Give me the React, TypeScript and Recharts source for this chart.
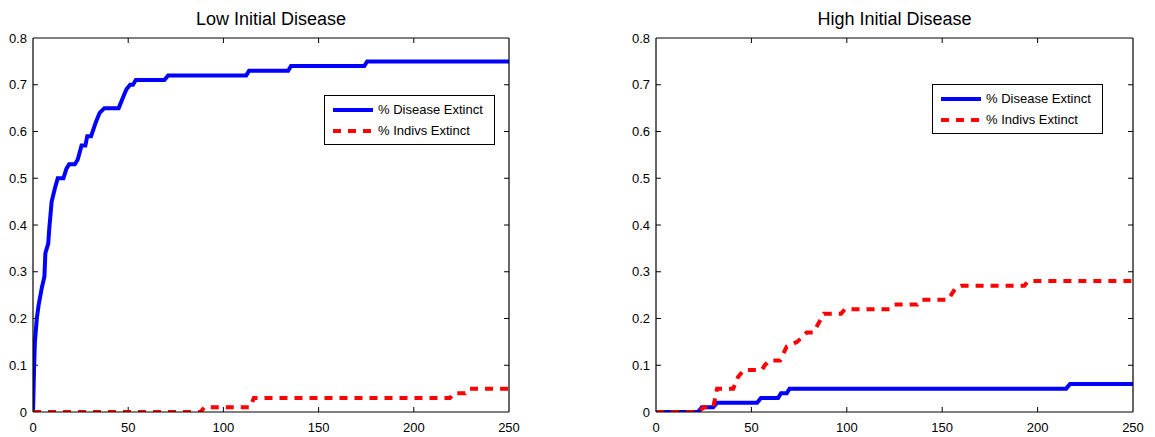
import { LineChart, Line, XAxis, YAxis, Legend, ReferenceLine } from 'recharts'

// time (x) and fraction (y) for each curve
const lowDiseaseT = [0, 0.6, 1, 2, 3, 4.6, 6, 6.5, 8, 8.5, 9.8, 11.6, 13, 16, 17.5, 19, 22, 23.5, 25.5, 27.5, 28.5, 30.5, 33, 35, 37.5, 45, 47, 49, 51, 52.5, 54, 69, 71, 112, 113.5, 134, 135.5, 174, 175.5, 250]
const lowDiseaseV = [0, 0.1, 0.15, 0.2, 0.23, 0.265, 0.29, 0.34, 0.36, 0.39, 0.45, 0.48, 0.5, 0.5, 0.52, 0.53, 0.53, 0.54, 0.57, 0.57, 0.59, 0.59, 0.62, 0.64, 0.65, 0.65, 0.67, 0.69, 0.7, 0.7, 0.71, 0.71, 0.72, 0.72, 0.73, 0.73, 0.74, 0.74, 0.75, 0.75]
const lowIndivsT = [0, 88, 90, 114, 116, 219, 221, 227, 229, 250]
const lowIndivsV = [0, 0, 0.01, 0.01, 0.03, 0.03, 0.04, 0.04, 0.05, 0.05]

const highDiseaseT = [0, 22, 24, 30, 32, 53, 55, 64, 65.5, 68.5, 70, 215, 217, 250]
const highDiseaseV = [0, 0, 0.01, 0.01, 0.02, 0.02, 0.03, 0.03, 0.04, 0.04, 0.05, 0.05, 0.06, 0.06]
const highIndivsT = [0, 22, 25, 30, 32, 40.5, 43, 46, 55.5, 57, 59.5, 65, 68.5, 74, 79, 82.5, 88, 97, 99, 122.5, 125, 137, 139, 153, 157, 160, 193, 195, 250]
const highIndivsV = [0, 0, 0.01, 0.01, 0.05, 0.05, 0.075, 0.09, 0.09, 0.1, 0.11, 0.11, 0.14, 0.15, 0.17, 0.17, 0.21, 0.21, 0.22, 0.22, 0.23, 0.23, 0.24, 0.24, 0.265, 0.27, 0.27, 0.28, 0.28]

const xTicks = [0, 50, 100, 150, 200, 250]
const yTicks = [0, 0.1, 0.2, 0.3, 0.4, 0.5, 0.6, 0.7, 0.8]
const seriesNames = ['% Disease Extinct', '% Indivs Extinct']

const zip = (t: number[], v: number[]) => t.map((x, i) => ({ t: x, v: v[i] }))

const FONT = '"Liberation Sans", Arial, sans-serif'
const tickStyle = { fontSize: 13, fill: '#000', fontFamily: FONT }
// inward tick length (~5px) in data units
const TX = 2.6
const TY = 0.0107

function LegendBox() {
  const row = (name: string, color: string, dashed: boolean) => (
    <div style={{ display: 'flex', alignItems: 'center', height: 21 }}>
      <svg width={44} height={8} style={{ marginRight: 3 }}>
        <line x1={2} y1={4} x2={42} y2={4} stroke={color} strokeWidth={4} strokeDasharray={dashed ? '8 7' : undefined} />
      </svg>
      <span>{name}</span>
    </div>
  )
  return (
    <div style={{ border: '1px solid #000', background: '#fff', padding: '3px 6px', fontFamily: FONT, fontSize: 13, color: '#000', boxSizing: 'border-box', width: 171, height: 50, textAlign: 'left' }}>
      {row(seriesNames[0], '#0000ff', false)}
      {row(seriesNames[1], '#ff0000', true)}
    </div>
  )
}

function tickMarks() {
  const out: any[] = []
  xTicks.slice(1, -1).forEach(t => {
    out.push(<ReferenceLine key={'xb' + t} xAxisId="b" yAxisId="l" segment={[{ x: t, y: 0 }, { x: t, y: TY }]} stroke="#000" />)
    out.push(<ReferenceLine key={'xt' + t} xAxisId="b" yAxisId="l" segment={[{ x: t, y: 0.8 }, { x: t, y: 0.8 - TY }]} stroke="#000" />)
  })
  yTicks.slice(1, -1).forEach(v => {
    out.push(<ReferenceLine key={'yl' + v} xAxisId="b" yAxisId="l" segment={[{ x: 0, y: v }, { x: TX, y: v }]} stroke="#000" />)
    out.push(<ReferenceLine key={'yr' + v} xAxisId="b" yAxisId="l" segment={[{ x: 250, y: v }, { x: 250 - TX, y: v }]} stroke="#000" />)
  })
  return out
}

function Panel({ title, disease, indivs, width, yWidth, right, legendLeft, legendTop }: any) {
  return (
    <div style={{ position: 'relative', width, height: 437 }}>
      <LineChart width={width} height={437} margin={{ top: 37, right, bottom: 0, left: 0 }}>
        <XAxis xAxisId="b" dataKey="t" type="number" domain={[0, 250]} ticks={xTicks} allowDataOverflow
          height={25} tickSize={-5} tickMargin={16} tick={tickStyle} fontSize={13}
          axisLine={{ stroke: '#000', strokeWidth: 1.2 }} tickLine={false} />
        <XAxis xAxisId="t" orientation="top" dataKey="t" type="number" domain={[0, 250]} ticks={xTicks}
          height={1} tick={false} axisLine={{ stroke: '#000', strokeWidth: 1.2 }} tickLine={false} />
        <YAxis yAxisId="l" type="number" domain={[0, 0.8]} ticks={yTicks} allowDataOverflow
          width={yWidth} tickSize={-5} tickMargin={11} tick={tickStyle} fontSize={13}
          axisLine={{ stroke: '#000', strokeWidth: 1.2 }} tickLine={false} />
        <YAxis yAxisId="r" orientation="right" type="number" domain={[0, 0.8]} ticks={yTicks}
          width={1} tick={false} axisLine={{ stroke: '#000', strokeWidth: 1.2 }} tickLine={false} />
        {tickMarks()}
        <Line xAxisId="b" yAxisId="l" data={disease} dataKey="v" name={seriesNames[0]} type="linear"
          stroke="#0000ff" strokeWidth={4} dot={false} isAnimationActive={false} />
        <Line xAxisId="b" yAxisId="l" data={indivs} dataKey="v" name={seriesNames[1]} type="linear"
          stroke="#ff0000" strokeWidth={4} strokeDasharray="8 7" dot={false} isAnimationActive={false} />
        <Legend content={<LegendBox />} layout="vertical" align="center" verticalAlign="middle"
          wrapperStyle={{ left: legendLeft, top: legendTop, width: 171, height: 50 }} />
      </LineChart>
      <div style={{ position: 'absolute', left: yWidth, width: width - yWidth - right - 1, top: 8, textAlign: 'center', fontFamily: FONT, fontSize: 18, lineHeight: '22px', color: '#000' }}>
        {title}
      </div>
    </div>
  )
}

export default function App() {
  return (
    <div style={{ position: 'absolute', left: 0, top: 0, width: 1155, height: 437, background: '#fff', display: 'flex' }}>
      <div style={{ width: 620 }}>
        <Panel title="Low Initial Disease" disease={zip(lowDiseaseT, lowDiseaseV)} indivs={zip(lowIndivsT, lowIndivsV)}
          width={540} yWidth={33} right={30} legendLeft={324} legendTop={95} />
      </div>
      <Panel title="High Initial Disease" disease={zip(highDiseaseT, highDiseaseV)} indivs={zip(highIndivsT, highIndivsV)}
        width={535} yWidth={36} right={21} legendLeft={312} legendTop={84} />
    </div>
  )
}
